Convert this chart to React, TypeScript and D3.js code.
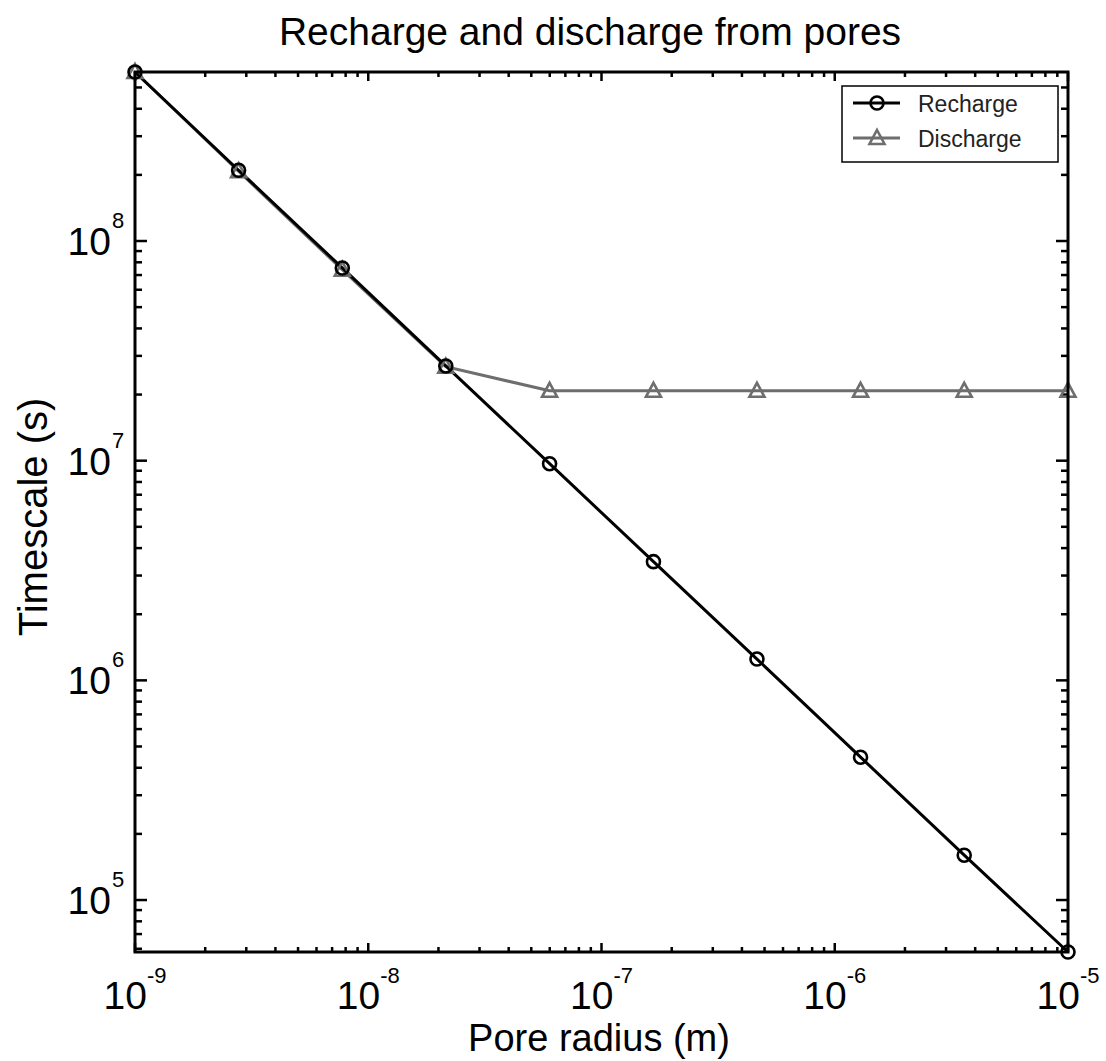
import React, { useEffect, useRef } from "react";
import * as d3 from "d3";

// pore radius (m), ten log-spaced points
const radius = [1e-9, 2.78e-9, 7.74e-9, 2.15e-8, 5.99e-8, 1.67e-7, 4.64e-7, 1.29e-6, 3.59e-6, 1e-5];
const recharge = [5.88e8, 2.1e8, 7.54e7, 2.7e7, 9.69e6, 3.47e6, 1.25e6, 4.47e5, 1.6e5, 5.8e4];
const discharge = [5.88e8, 2.08e8, 7.4e7, 2.68e7, 2.08e7, 2.08e7, 2.08e7, 2.08e7, 2.08e7, 2.08e7];
const xTickExp = [-9, -8, -7, -6, -5];
const yTickExp = [5, 6, 7, 8];
const seriesNames = ["Recharge", "Discharge"];

const App = () => {
  const ref = useRef<SVGSVGElement>(null);

  useEffect(() => {
    const svg = d3.select(ref.current);
    svg.selectAll("*").remove();

    const left = 135, right = 1068, top = 72, bottom = 952;
    const font = "'Liberation Sans', Arial, sans-serif";
    const gray = "#6e6e6e";

    const x = d3.scaleLog().domain([1e-9, 1e-5]).range([left, right]);
    const y = d3.scaleLog().domain([5.8e4, 5.88e8]).range([bottom, top]);

    svg.append("rect").attr("width", 1106).attr("height", 1061).attr("fill", "#fff");

    // ticks (inward, all four sides)
    const g = svg.append("g").attr("stroke", "#000").attr("stroke-width", 2.5);
    x.ticks().forEach((t) => {
      const major = xTickExp.some((e) => Math.abs(t - Math.pow(10, e)) < t * 1e-6);
      const len = major ? 9 : 5;
      const px = x(t);
      g.append("line").attr("x1", px).attr("x2", px).attr("y1", bottom).attr("y2", bottom - len);
      g.append("line").attr("x1", px).attr("x2", px).attr("y1", top).attr("y2", top + len);
    });
    y.ticks().forEach((t) => {
      const major = yTickExp.some((e) => Math.abs(t - Math.pow(10, e)) < t * 1e-6);
      const len = major ? 12 : 7;
      const py = y(t);
      g.append("line").attr("y1", py).attr("y2", py).attr("x1", left).attr("x2", left + len);
      g.append("line").attr("y1", py).attr("y2", py).attr("x1", right).attr("x2", right - len);
    });

    // tick labels
    xTickExp.forEach((e) => {
      const px = x(Math.pow(10, e));
      svg.append("text").attr("x", px + 12).attr("y", 1009).attr("text-anchor", "end")
        .attr("font-family", font).attr("font-size", 39).text("10");
      svg.append("text").attr("x", px + 12).attr("y", 983)
        .attr("font-family", font).attr("font-size", 22).text(String(e));
    });
    yTickExp.forEach((e) => {
      const py = y(Math.pow(10, e));
      svg.append("text").attr("x", 111).attr("y", py + 14).attr("text-anchor", "end")
        .attr("font-family", font).attr("font-size", 39).text("10");
      svg.append("text").attr("x", 112).attr("y", py - 13)
        .attr("font-family", font).attr("font-size", 22).text(String(e));
    });

    // series
    const line = d3.line<number>().x((d, i) => x(radius[i])).y((d) => y(d));
    svg.append("path").datum(discharge).attr("d", line).attr("fill", "none")
      .attr("stroke", gray).attr("stroke-width", 3);
    svg.append("path").datum(recharge).attr("d", line).attr("fill", "none")
      .attr("stroke", "#000").attr("stroke-width", 3);

    const tri = (cx: number, cy: number) =>
      `M${cx},${cy - 8}L${cx + 7.5},${cy + 6}L${cx - 7.5},${cy + 6}Z`;

    svg.append("g").selectAll("path").data(discharge).enter().append("path")
      .attr("d", (d, i) => tri(x(radius[i]), y(d)))
      .attr("fill", "none").attr("stroke", gray).attr("stroke-width", 2.6);
    svg.append("g").selectAll("circle").data(recharge).enter().append("circle")
      .attr("cx", (d, i) => x(radius[i])).attr("cy", (d) => y(d)).attr("r", 6.5)
      .attr("fill", "none").attr("stroke", "#000").attr("stroke-width", 2.6);

    // axes box
    svg.append("rect").attr("x", left).attr("y", top).attr("width", right - left)
      .attr("height", bottom - top).attr("fill", "none").attr("stroke", "#000").attr("stroke-width", 3);

    // legend
    const lg = svg.append("g");
    lg.append("rect").attr("x", 842).attr("y", 86).attr("width", 216).attr("height", 76)
      .attr("fill", "#fff").attr("stroke", "#000").attr("stroke-width", 1.5);
    seriesNames.forEach((name, i) => {
      const ly = 103 + i * 35;
      const c = i === 0 ? "#000" : gray;
      lg.append("line").attr("x1", 853).attr("x2", 900).attr("y1", ly).attr("y2", ly)
        .attr("stroke", c).attr("stroke-width", 3);
      if (i === 0) {
        lg.append("circle").attr("cx", 877).attr("cy", ly).attr("r", 6.5)
          .attr("fill", "none").attr("stroke", c).attr("stroke-width", 2.6);
      } else {
        lg.append("path").attr("d", tri(877, ly)).attr("fill", "none")
          .attr("stroke", c).attr("stroke-width", 2.6);
      }
      lg.append("text").attr("x", 918).attr("y", ly + 9).attr("font-family", font)
        .attr("font-size", 23).attr("fill", "#222").text(name);
    });

    // titles
    svg.append("text").attr("x", 590).attr("y", 45).attr("text-anchor", "middle")
      .attr("font-family", font).attr("font-size", 39).text("Recharge and discharge from pores");
    svg.append("text").attr("x", 599).attr("y", 1051).attr("text-anchor", "middle")
      .attr("font-family", font).attr("font-size", 38).text("Pore radius (m)");
    svg.append("text").attr("transform", "translate(47,517) rotate(-90)").attr("text-anchor", "middle")
      .attr("font-family", font).attr("font-size", 40).text("Timescale (s)");
  }, []);

  return (
    <svg ref={ref} width={1106} height={1061} style={{ position: "absolute", left: 0, top: 0 }} />
  );
};

export default App;
